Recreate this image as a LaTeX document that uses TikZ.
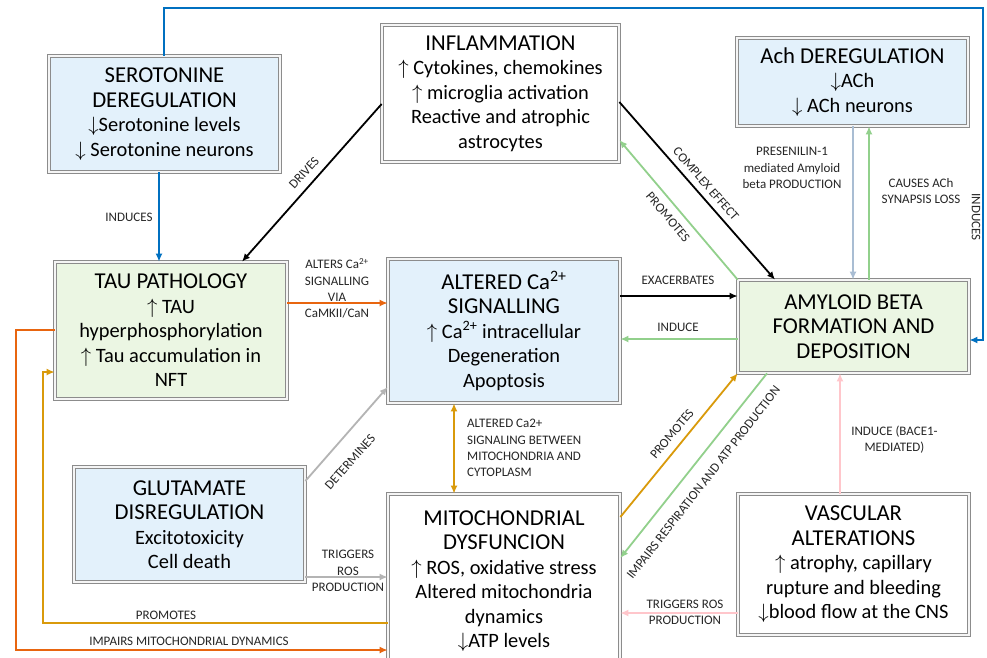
\documentclass[tikz,border=0pt]{standalone}
\usepackage{fontspec}
\setmainfont{Carlito}
\usetikzlibrary{arrows.meta}
\definecolor{bxblue}{HTML}{E3F1FB}
\definecolor{bxgreen}{HTML}{EBF6E3}
\definecolor{bxline}{HTML}{8C8C8C}
\definecolor{cblue}{HTML}{0070C0}
\definecolor{corange}{HTML}{E8650F}
\definecolor{cgold}{HTML}{D99A0B}
\definecolor{cgreen}{HTML}{92D08C}
\definecolor{cgray}{HTML}{B4B4B4}
\definecolor{csteel}{HTML}{A9BDD3}
\definecolor{cpink}{HTML}{FFC6CB}
\newcommand\bxtitle{\fontsize{22.7}{27}\selectfont}
\newcommand\bxbody{\fontsize{20.4}{24.5}\selectfont}
\begin{document}
\begin{tikzpicture}[x=1pt,y=-1pt,
  box/.style={draw=bxline, line width=0.7pt, double=gray!8, double distance=2pt,
    inner sep=0pt, align=center, font=\bxbody},
  lbl/.style={font=\fontsize{13}{16.3}\selectfont, align=center, inner sep=0pt, text=black!85},
  arr/.style={line width=1.8pt, -{Latex[length=8pt,width=7pt]}},
]
\path[use as bounding box, clip] (0,0) rectangle (987,657);
\fill[white] (0,0) rectangle (987,657);

% boxes
\node[box, fill=bxblue, minimum width=231pt, minimum height=116pt] (sero) at (164.5,114)
  {\bxtitle SEROTONINE\\\bxtitle DEREGULATION\\$\downarrow$Serotonine levels\\$\downarrow$ Serotonine neurons};
\node[box, fill=white, minimum width=237pt, minimum height=137pt] (infl) at (500.5,93.5)
  {\bxtitle INFLAMMATION\\$\uparrow$ Cytokines, chemokines\\$\uparrow$ microglia activation\\Reactive and atrophic\\astrocytes};
\node[box, fill=bxblue, minimum width=231pt, minimum height=88pt] (ach) at (852.5,82)
  {\bxtitle Ach DEREGULATION\\$\downarrow$ACh\\$\downarrow$ ACh neurons};
\node[box, fill=bxgreen, minimum width=232pt, minimum height=137pt] (tau) at (171,330.5)
  {\bxtitle TAU PATHOLOGY\\$\uparrow$ TAU\\hyperphosphorylation\\$\uparrow$ Tau accumulation in\\NFT};
\node[box, fill=bxblue, minimum width=232pt, minimum height=144pt] (ca) at (504,331)
  {\bxtitle ALTERED Ca\textsuperscript{2+}\\\bxtitle SIGNALLING\\$\uparrow$ Ca\textsuperscript{2+} intracellular\\Degeneration\\Apoptosis};
\node[box, fill=bxgreen, minimum width=231pt, minimum height=93pt] (amy) at (853.5,326.5)
  {\bxtitle AMYLOID BETA\\\bxtitle FORMATION AND\\\bxtitle DEPOSITION};
\node[box, fill=bxblue, minimum width=231pt, minimum height=115pt] (glu) at (189.5,524.5)
  {\bxtitle GLUTAMATE\\\bxtitle DISREGULATION\\Excitotoxicity\\Cell death};
\node[box, fill=white, minimum width=232pt, minimum height=174pt] (mito) at (504,581)
  {\bxtitle MITOCHONDRIAL\\\bxtitle DYSFUNCION\\$\uparrow$ ROS, oxidative stress\\Altered mitochondria\\dynamics\\$\downarrow$ATP levels};
\node[box, fill=white, minimum width=231pt, minimum height=141pt] (vasc) at (853.5,564.5)
  {\bxtitle VASCULAR\\\bxtitle ALTERATIONS\\$\uparrow$ atrophy, capillary\\rupture and bleeding\\$\downarrow$blood flow at the CNS};

% connectors
\draw[arr, cblue, line width=2.2pt] (sero.north -| 164,0) |- (983,8) |- (amy.east |- 0,340);
\draw[arr, cblue, line width=2.2pt] (sero.south -| 159,0) -- (tau.north -| 159,0);
\draw[arr, black] (infl.west |- 0,104) -- (tau.north -| 242,0);
\draw[arr, black] (infl.east |- 0,102) -- (amy.north -| 775,0);
\draw[arr, cgreen] (amy.north west) -- (infl.east |- 0,140);
\draw[arr, csteel] (ach.south -| 853,0) -- (amy.north -| 853,0);
\draw[arr, cgreen] (amy.north -| 869,0) -- (ach.south -| 869,0);
\draw[arr, corange] (tau.east |- 0,303) -- (ca.west |- 0,303);
\draw[arr, black] (ca.east |- 0,296) -- (amy.west |- 0,296);
\draw[arr, cgreen] (amy.west |- 0,339) -- (ca.east |- 0,339);
\draw[arr, corange] (tau.west |- 0,330) -| (16,650) -- (mito.west |- 0,650);
\draw[arr, cgold] (mito.west |- 0,623) -| (43,372) -- (tau.west |- 0,372);
\draw[line width=1.8pt, cgold, {Latex[length=8pt,width=7pt]}-{Latex[length=8pt,width=7pt]}] (ca.south -| 454,0) -- (mito.north -| 454,0);
\draw[arr, cgray] (glu.east |- 0,481) -- (ca.west |- 0,387);
\draw[arr, cgray] (glu.east |- 0,577) -- (mito.west |- 0,577);
\draw[arr, cgold] (mito.east |- 0,517) -- (amy.south west);
\draw[arr, cgreen] (amy.south -| 767,0) -- (mito.east |- 0,558);
\draw[arr, cpink] (vasc.north -| 840,0) -- (amy.south -| 840,0);
\draw[arr, cpink] (vasc.west |- 0,613) -- (mito.east |- 0,613);

% labels
\node[lbl] (l1) at (129,217.5) {INDUCES};
\node[lbl, rotate=47.7] (l2) at (304,173) {DRIVES};
\node[lbl, rotate=-48.8] (l3) at (706,184) {COMPLEX EFFECT};
\node[lbl, rotate=-49.7] (l4) at (668,217) {PROMOTES};
\node[lbl] (l5) at (792,168) {PRESENILIN-1\\mediated Amyloid\\beta PRODUCTION};
\node[lbl] (l6) at (921,191) {CAUSES ACh\\SYNAPSIS LOSS};
\node[lbl, rotate=-90] (l7) at (976,217) {INDUCES};
\node[lbl] (l8) at (337,288.5) {ALTERS Ca\textsuperscript{2+}\\SIGNALLING\\VIA\\CaMKII/CaN};
\node[lbl] (l9) at (678,280) {EXACERBATES};
\node[lbl] (l10) at (678,327) {INDUCE};
\node[lbl, anchor=west, align=left] (l11) at (467,448) {ALTERED Ca2+\\SIGNALING BETWEEN\\MITOCHONDRIA AND\\CYTOPLASM};
\node[lbl, rotate=48.6] (l12) at (350,462) {DETERMINES};
\node[lbl] (l13) at (348,571) {TRIGGERS\\ROS\\PRODUCTION};
\node[lbl, rotate=50] (l14) at (672,434) {PROMOTES};
\node[lbl, rotate=52] (l15) at (703.5,482.5) {IMPAIRS RESPIRATION AND ATP PRODUCTION};
\node[lbl] (l16) at (894.5,439.5) {INDUCE (BACE1-\\MEDIATED)};
\node[lbl] (l17) at (685,612) {TRIGGERS ROS\\PRODUCTION};
\node[lbl] (l18) at (166,615.5) {PROMOTES};
\node[lbl] (l19) at (189,641) {IMPAIRS MITOCHONDRIAL DYNAMICS};
\end{tikzpicture}
\end{document}
